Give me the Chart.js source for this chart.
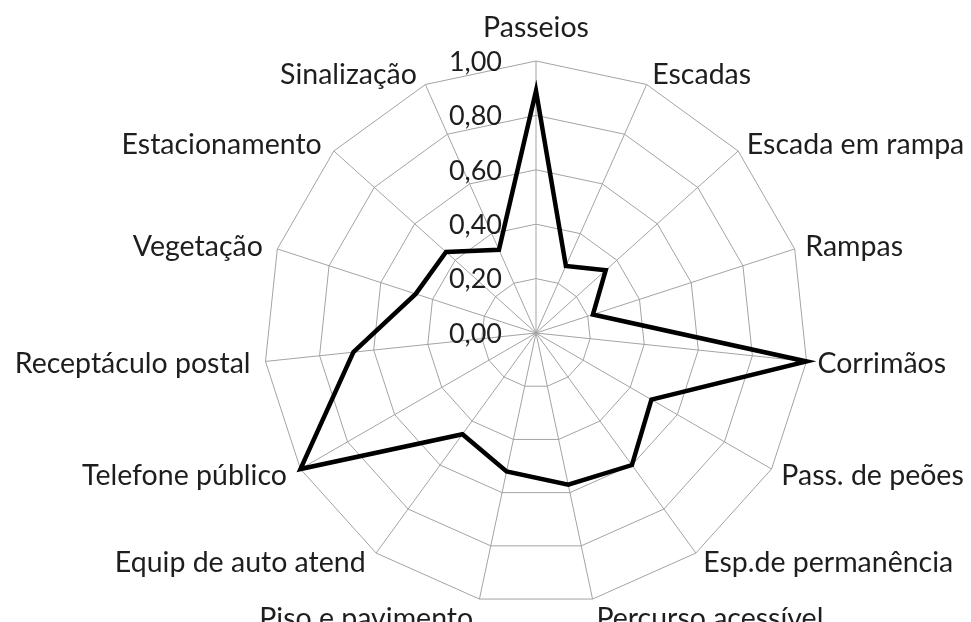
<!DOCTYPE html>
<html>
<head>
<meta charset="utf-8">
<script src="https://cdn.jsdelivr.net/npm/chart.js@4.4.1/dist/chart.umd.min.js"></script>
<style>
html,body{margin:0;padding:0;background:#fff;}
#wrap{position:relative;width:971px;height:622px;}
</style>
</head>
<body>
<div id="wrap"><canvas id="chart"></canvas></div>
<script>
const categories = ['Passeios','Escadas','Escada em rampa','Rampas','Corrimãos','Pass. de peões','Esp.de permanência','Percurso acessível','Piso e pavimento','Equip de auto atend','Telefone público','Receptáculo postal','Vegetação','Estacionamento','Sinalização'];
const values = [0.89, 0.27, 0.345, 0.22, 1.00, 0.49, 0.60, 0.57, 0.52, 0.46, 1.00, 0.675, 0.465, 0.445, 0.335];
const tickValues = [0, 0.2, 0.4, 0.6, 0.8, 1.0];
const tickLabels = ['0,00','0,20','0,40','0,60','0,80','1,00'];

const CAT_FONT = "28.5px Lato, 'Open Sans', sans-serif";
const TICK_FONT = "27px Lato, 'Open Sans', sans-serif";
const TEXT = '#1e1e1e';

// tick labels sit left of the vertical axis, under the line
const tickPlugin = {
  id:'tickLabels',
  beforeDatasetsDraw(chart){
    const s=chart.scales.r, ctx=chart.ctx;
    ctx.save(); ctx.font=TICK_FONT; ctx.fillStyle=TEXT; ctx.textAlign='right'; ctx.textBaseline='middle';
    tickValues.forEach((v,i)=>{ const y=s.yCenter-s.getDistanceFromCenterForValue(v); ctx.fillText(tickLabels[i], s.xCenter-34, y+1); });
    ctx.restore();
  }
};
// category labels placed the way Excel does it
const catPlugin = {
  id:'catLabels',
  afterDraw(chart){
    const s=chart.scales.r, ctx=chart.ctx;
    ctx.save(); ctx.font=CAT_FONT; ctx.fillStyle=TEXT; ctx.textBaseline='alphabetic';
    categories.forEach((lab,i)=>{
      const p=s.getPointPositionForValue(i, s.max);
      const a=p.angle+Math.PI/2, sn=Math.sin(a), cs=Math.cos(a);
      let x=p.x, y=p.y;
      if(Math.abs(sn)<0.01){ ctx.textAlign='center'; ctx.fillText(lab, x, y-24); return; }
      ctx.textAlign = sn>0 ? 'left' : 'right';
      x += sn>0 ? (2+9*sn) : (-4+11*sn);
      let mid = y - cs*11;
      if(cs<-0.95) mid += 8;
      ctx.fillText(lab, x, mid+10);
    });
    ctx.restore();
  }
};

new Chart(document.getElementById('chart'), {
  type:'radar',
  data:{ labels:categories, datasets:[{ data:values, borderColor:'#000', borderWidth:4.5, backgroundColor:'transparent', fill:false, pointRadius:0, pointHoverRadius:0, tension:0 }]},
  options:{
    responsive:true, maintainAspectRatio:false, animation:false, events:[],
    layout:{ padding:{ left:264, right:163, top:61, bottom:17 } },
    plugins:{ legend:{display:false}, tooltip:{enabled:false} },
    scales:{ r:{ min:0, max:1, ticks:{ stepSize:0.2, display:false },
      grid:{ color:'#a3a3a3', lineWidth:1 }, angleLines:{ color:'#a3a3a3', lineWidth:1 },
      pointLabels:{ display:false } } }
  },
  plugins:[tickPlugin, catPlugin]
});
</script>
</body>
</html>
